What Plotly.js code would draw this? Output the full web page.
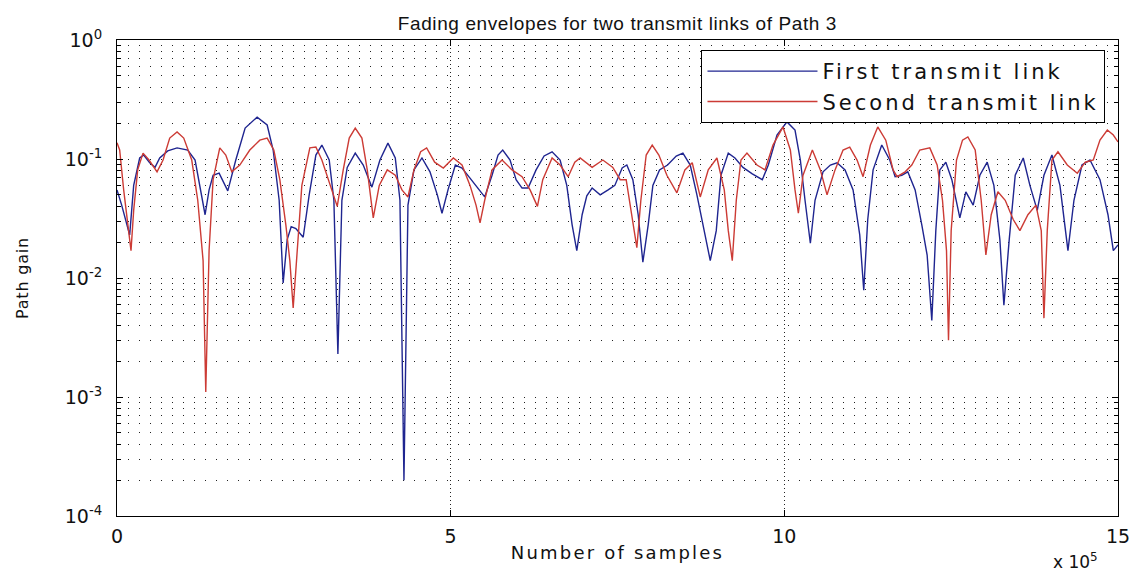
<!DOCTYPE html>
<html>
<head>
<meta charset="utf-8">
<script src="https://cdn.plot.ly/plotly-3.0.1.min.js"></script>
<style>
html,body{margin:0;padding:0;background:#fff;}
#chart{width:1136px;height:574px;}
.legendtext{letter-spacing:3px;}
.xtitle{letter-spacing:2.2px;}
.gtitle{letter-spacing:0.6px;}
.ytitle{letter-spacing:0.8px;}
</style>
</head>
<body>
<div id="chart"></div>
<script>
// x in units of 1e5 samples
const firstX = [0,0.07,0.19,0.25,0.34,0.40,0.49,0.57,0.64,0.76,0.90,1.06,1.17,1.24,1.32,1.38,1.44,1.53,1.66,1.78,1.92,2.10,2.25,2.34,2.43,2.49,2.55,2.61,2.68,2.79,2.88,2.98,3.07,3.18,3.25,3.31,3.37,3.45,3.57,3.69,3.82,3.94,4.06,4.17,4.24,4.30,4.36,4.45,4.57,4.69,4.80,4.87,4.96,5.07,5.17,5.29,5.41,5.51,5.62,5.71,5.78,5.89,5.98,6.07,6.16,6.28,6.40,6.52,6.64,6.74,6.82,6.89,6.97,7.04,7.12,7.24,7.36,7.46,7.57,7.64,7.73,7.81,7.88,7.96,8.03,8.13,8.25,8.38,8.48,8.59,8.69,8.80,8.89,8.98,9.05,9.16,9.26,9.38,9.52,9.67,9.76,9.89,10.04,10.16,10.24,10.31,10.39,10.46,10.58,10.69,10.79,10.91,11.03,11.13,11.19,11.25,11.33,11.46,11.58,11.66,11.76,11.85,11.96,12.06,12.14,12.21,12.27,12.33,12.42,12.51,12.63,12.72,12.83,12.93,13.04,13.14,13.23,13.29,13.37,13.46,13.58,13.68,13.79,13.89,14.01,14.13,14.25,14.34,14.46,14.58,14.73,14.85,14.93,15.0];
const firstGain = [0.055,0.041,0.023,0.060,0.102,0.108,0.093,0.085,0.102,0.117,0.124,0.119,0.098,0.060,0.034,0.055,0.073,0.076,0.054,0.098,0.182,0.225,0.193,0.119,0.045,0.0091,0.021,0.027,0.026,0.022,0.050,0.108,0.131,0.098,0.045,0.0023,0.045,0.085,0.112,0.089,0.058,0.098,0.136,0.102,0.045,0.0002,0.041,0.081,0.102,0.078,0.050,0.035,0.055,0.089,0.084,0.069,0.057,0.048,0.073,0.108,0.119,0.098,0.067,0.057,0.057,0.081,0.106,0.115,0.098,0.060,0.028,0.017,0.034,0.049,0.057,0.050,0.055,0.060,0.084,0.089,0.067,0.034,0.0136,0.028,0.060,0.081,0.089,0.106,0.112,0.089,0.050,0.025,0.014,0.025,0.073,0.112,0.102,0.085,0.075,0.067,0.089,0.159,0.205,0.175,0.098,0.045,0.0196,0.045,0.078,0.089,0.093,0.081,0.055,0.023,0.0079,0.031,0.081,0.131,0.098,0.071,0.073,0.078,0.055,0.028,0.0156,0.0044,0.025,0.081,0.094,0.067,0.032,0.053,0.041,0.073,0.094,0.060,0.021,0.0059,0.021,0.073,0.102,0.060,0.037,0.073,0.108,0.060,0.017,0.045,0.089,0.098,0.067,0.034,0.017,0.019];

const secondX = [0,0.04,0.10,0.16,0.21,0.25,0.31,0.39,0.48,0.60,0.69,0.79,0.90,1.00,1.12,1.21,1.29,1.33,1.38,1.44,1.54,1.63,1.72,1.84,1.99,2.14,2.25,2.35,2.44,2.53,2.59,2.64,2.70,2.77,2.89,2.98,3.07,3.19,3.30,3.39,3.48,3.57,3.67,3.75,3.84,3.93,4.05,4.17,4.27,4.36,4.45,4.55,4.64,4.76,4.89,5.04,5.17,5.29,5.38,5.44,5.51,5.62,5.77,5.92,6.07,6.19,6.30,6.38,6.52,6.64,6.76,6.86,6.94,7.12,7.28,7.43,7.54,7.63,7.70,7.79,7.85,7.93,8.02,8.12,8.24,8.39,8.51,8.62,8.74,8.86,8.99,9.10,9.16,9.22,9.28,9.35,9.44,9.59,9.71,9.83,9.98,10.09,10.16,10.21,10.28,10.42,10.54,10.64,10.76,10.88,10.98,11.09,11.18,11.29,11.40,11.52,11.63,11.69,11.81,11.91,12.03,12.18,12.29,12.37,12.43,12.46,12.50,12.58,12.67,12.75,12.86,12.95,13.02,13.10,13.20,13.31,13.43,13.53,13.65,13.77,13.85,13.89,13.94,14.01,14.10,14.24,14.39,14.51,14.63,14.73,14.84,14.93,15.0];
const secondGain = [0.137,0.119,0.055,0.028,0.017,0.037,0.081,0.112,0.098,0.078,0.098,0.150,0.169,0.150,0.098,0.045,0.014,0.0011,0.017,0.067,0.124,0.108,0.078,0.089,0.119,0.144,0.150,0.119,0.067,0.028,0.014,0.0056,0.017,0.060,0.124,0.126,0.098,0.060,0.040,0.081,0.150,0.182,0.150,0.081,0.032,0.060,0.081,0.073,0.055,0.048,0.081,0.115,0.124,0.094,0.084,0.102,0.089,0.060,0.041,0.029,0.045,0.081,0.098,0.081,0.071,0.055,0.040,0.067,0.102,0.089,0.071,0.094,0.102,0.085,0.098,0.085,0.067,0.067,0.037,0.018,0.045,0.108,0.131,0.108,0.073,0.052,0.081,0.093,0.048,0.081,0.102,0.055,0.025,0.014,0.045,0.098,0.112,0.089,0.081,0.131,0.186,0.119,0.055,0.035,0.073,0.119,0.081,0.050,0.081,0.119,0.126,0.098,0.071,0.131,0.186,0.144,0.081,0.071,0.078,0.089,0.119,0.124,0.089,0.045,0.017,0.003,0.025,0.098,0.144,0.153,0.119,0.045,0.0156,0.034,0.053,0.045,0.031,0.025,0.034,0.041,0.025,0.0046,0.025,0.098,0.115,0.089,0.076,0.094,0.098,0.144,0.175,0.159,0.139];

const seriesNames = ['First transmit link', 'Second transmit link'];
const xTickVals = [0, 5, 10, 15];
const xTickText = ['0', '5', '10', '15'];
const yTickVals = [1e-4, 1e-3, 1e-2, 1e-1, 1];
const yTickText = ['10<sup>-4</sup>', '10<sup>-3</sup>', '10<sup>-2</sup>', '10<sup>-1</sup>', '10<sup>0</sup>'];

const FONT = 'DejaVu Sans, Liberation Sans, Arial, sans-serif';
const NARROW = 'Liberation Sans Narrow, Liberation Sans, Arial, sans-serif';
const traces = [
  {x: firstX, y: firstGain, name: seriesNames[0], type: 'scatter', mode: 'lines',
   line: {color: '#1f2590', width: 1.4}},
  {x: secondX, y: secondGain, name: seriesNames[1], type: 'scatter', mode: 'lines',
   line: {color: '#cc3b35', width: 1.4}}
];

const layout = {
  width: 1136, height: 574,
  margin: {l: 117, r: 18, t: 40, b: 58},
  paper_bgcolor: '#ffffff', plot_bgcolor: '#ffffff',
  font: {family: FONT, color: '#111'},
  showlegend: true,
  title: {text: 'Fading envelopes for two transmit links of Path 3', x: 0.5435, xanchor: 'center', y: 0.96, yanchor: 'middle',
          font: {family: NARROW, size: 19, color: '#111'}},
  xaxis: {
    range: [0, 15], tickvals: xTickVals, ticktext: xTickText,
    ticks: 'inside', ticklen: 6, tickcolor: '#000', mirror: 'allticks',
    showline: true, linecolor: '#000', linewidth: 1,
    showgrid: true, gridcolor: '#222', gridwidth: 1, griddash: '1px,3px',
    zeroline: false, ticklabelstandoff: 3,
    tickfont: {size: 19, family: FONT, color: '#111'},
    title: {text: 'Number of samples', font: {size: 18, family: FONT, color: '#111'}, standoff: 0}
  },
  yaxis: {
    type: 'log', range: [-4, 0], tickvals: yTickVals, ticktext: yTickText,
    ticks: 'inside', ticklen: 6, tickcolor: '#000', mirror: 'allticks',
    showline: true, linecolor: '#000', linewidth: 1,
    showgrid: true, gridcolor: '#222', gridwidth: 1, griddash: '1px,10px',
    zeroline: false, ticklabelstandoff: 10,
    tickfont: {size: 19, family: FONT, color: '#111'},
    minor: {dtick: 'D1', ticks: 'inside', ticklen: 4, tickcolor: '#000',
            showgrid: true, gridcolor: '#222', gridwidth: 1, griddash: '1px,10px'},
    title: {text: 'Path gain', font: {size: 16, family: FONT, color: '#111'}, standoff: 32}
  },
  legend: {
    x: 0.9875, xanchor: 'right', y: 0.979, yanchor: 'top',
    bgcolor: '#ffffff', bordercolor: '#000', borderwidth: 1,
    font: {size: 21, family: FONT, color: '#111'},
    itemwidth: 110, tracegroupgap: 0
  },
  annotations: [
    {text: 'x 10<sup>5</sup>', xref: 'paper', yref: 'paper', x: 0.982, xanchor: 'right',
     y: -0.095, yanchor: 'middle', showarrow: false, font: {size: 17, family: FONT, color: '#111'}}
  ]
};

Plotly.newPlot('chart', traces, layout, {staticPlot: true, displayModeBar: false});
</script>
</body>
</html>
